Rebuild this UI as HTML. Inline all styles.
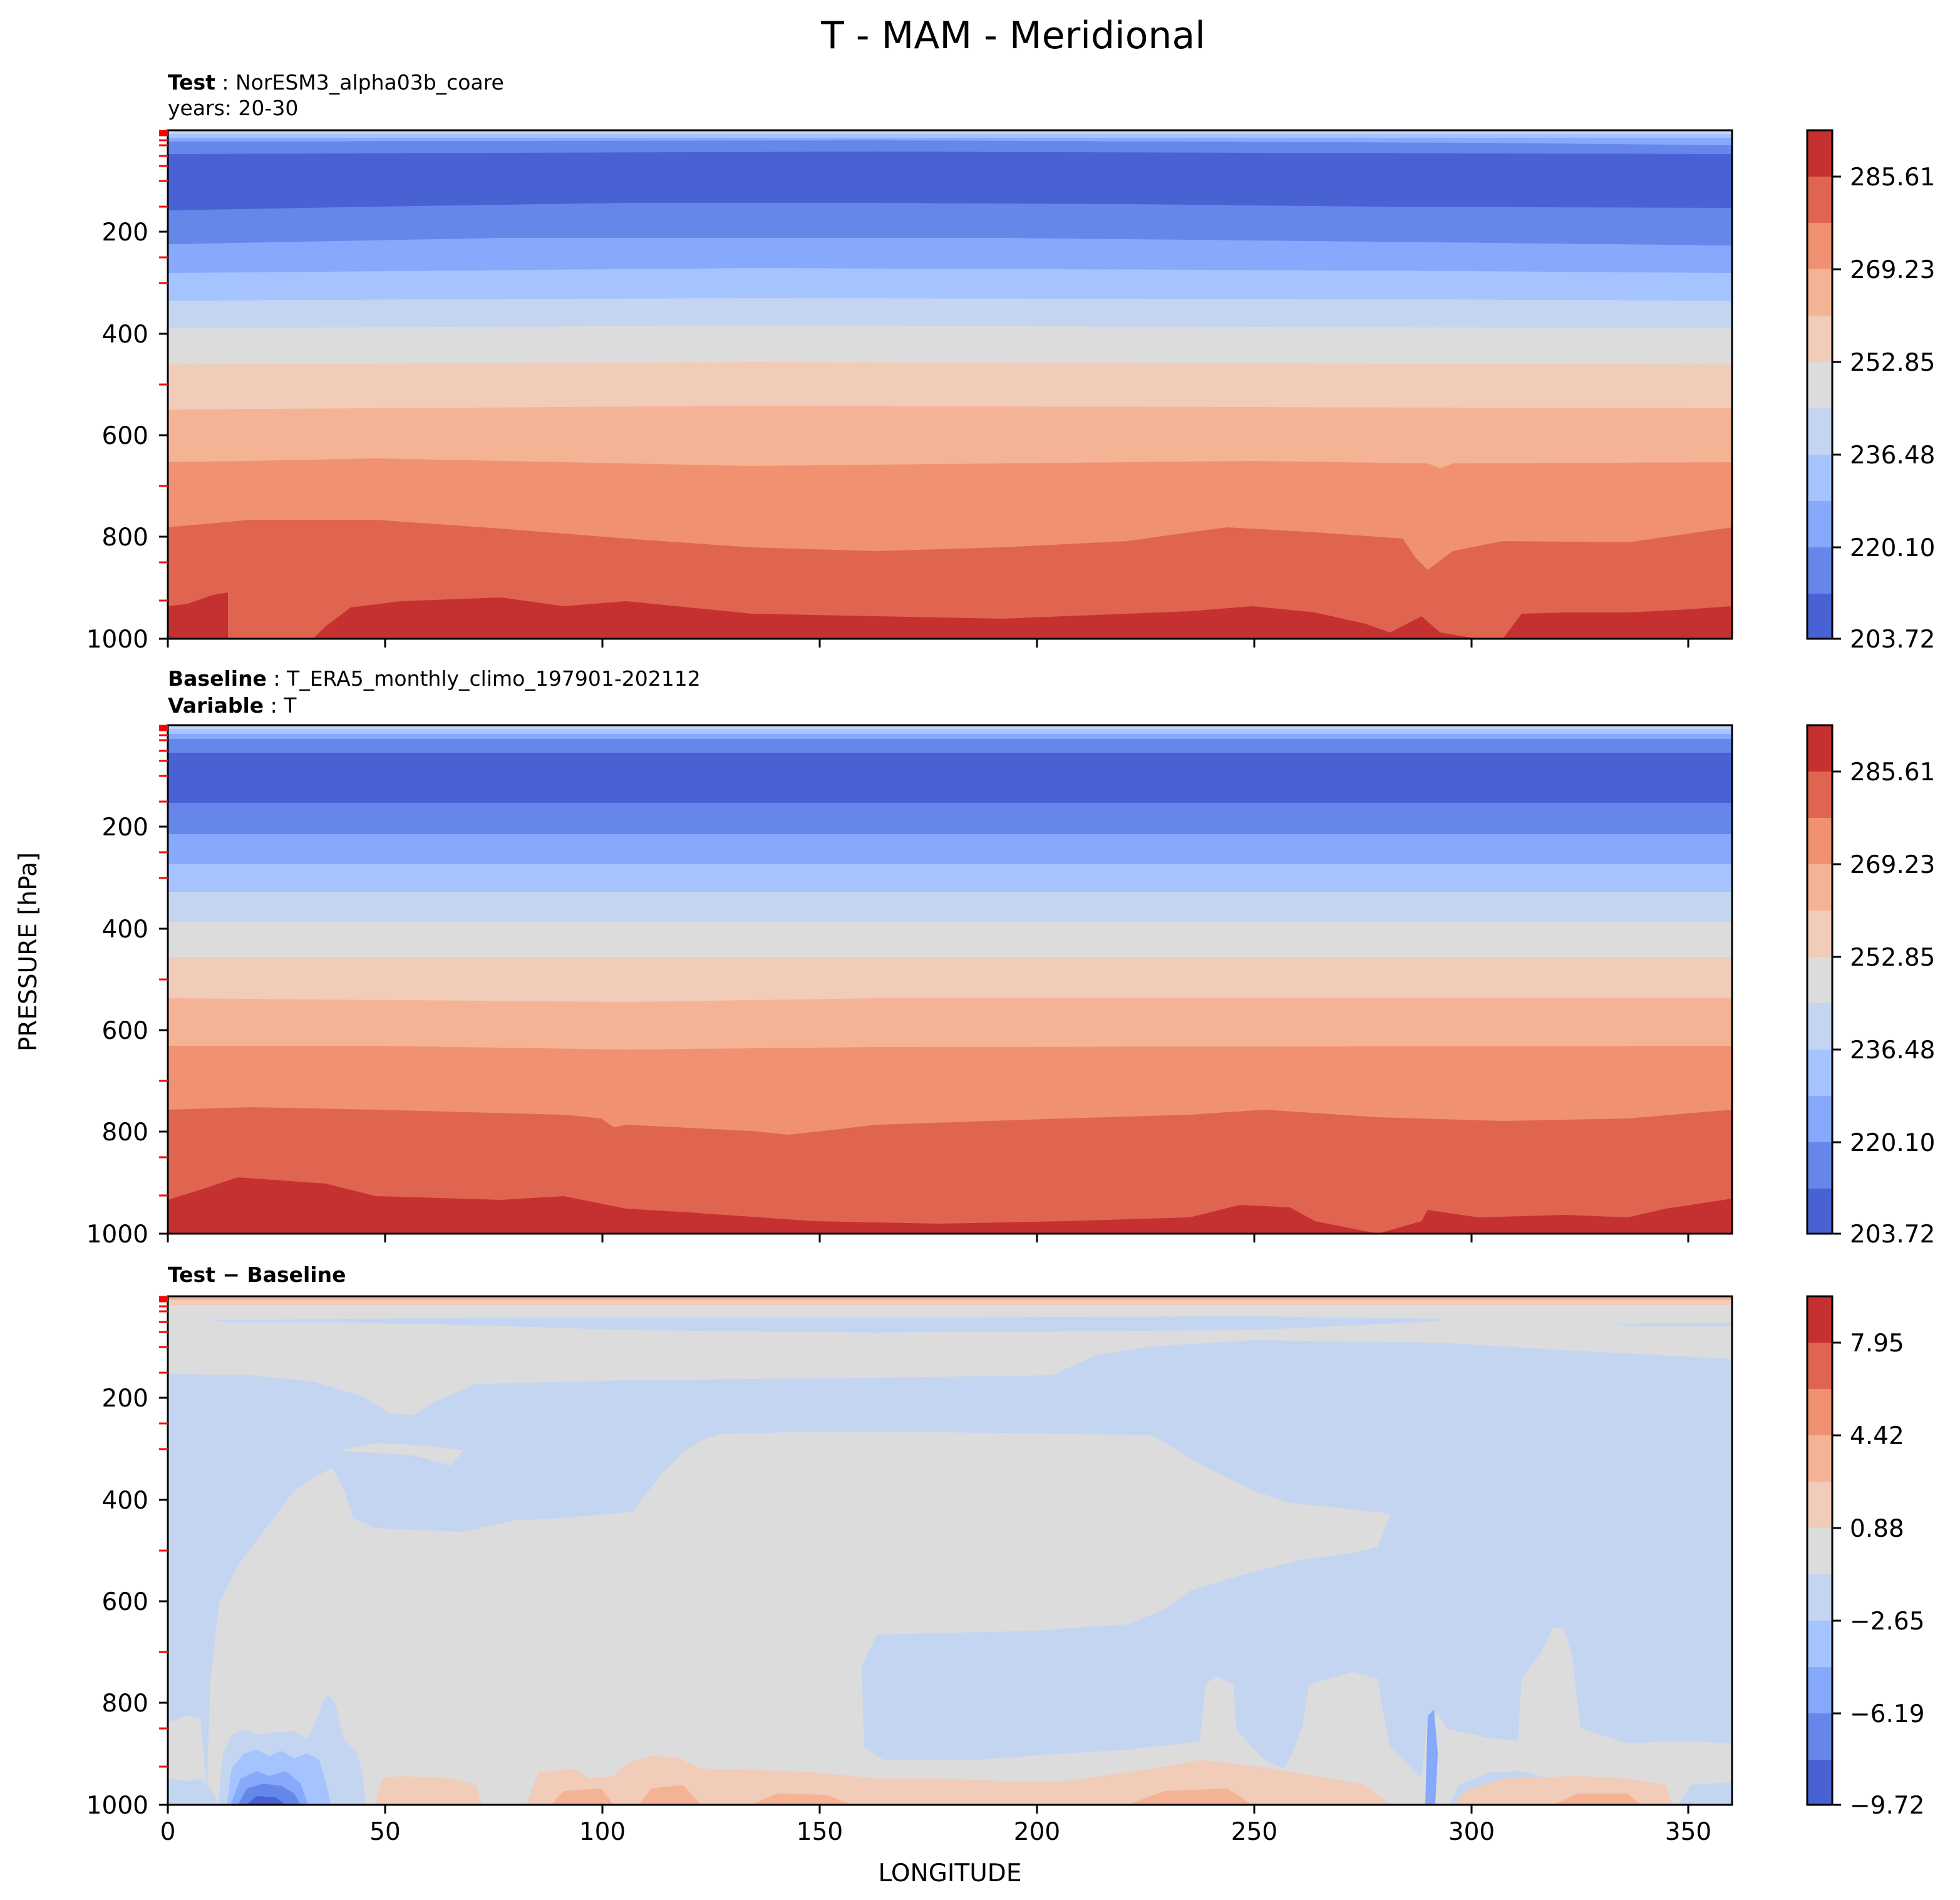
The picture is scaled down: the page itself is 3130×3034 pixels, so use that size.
<!DOCTYPE html>
<html><head><meta charset="utf-8"><style>html,body{margin:0;padding:0;background:#fff}svg{display:block}</style></head>
<body>
<svg xmlns="http://www.w3.org/2000/svg" width="3130" height="3034" viewBox="0 0 3130 3034" font-family="DejaVu Sans, Liberation Sans, sans-serif">
<rect width="3130" height="3034" fill="#fff"/>
<defs>
<clipPath id="c1"><rect x="134" y="104" width="1249" height="406"/></clipPath>
<clipPath id="c2"><rect x="134" y="579" width="1249" height="406"/></clipPath>
<clipPath id="c3"><rect x="134" y="1035" width="1249" height="406"/></clipPath>
</defs>
<g transform="scale(2)">
<!-- Panel 1 -->
<g clip-path="url(#c1)">
<rect x="134" y="104" width="1249" height="406" fill="#c4d5f2"/>
<rect x="134" y="107" width="1249" height="403" fill="#a5c3fe"/>
<rect x="134" y="110" width="1249" height="400" fill="#86a9fc"/>
<polygon fill="#6687ea" points="134,113 700,112 1180,114 1383,116 1383,510 134,510"/>
<polygon fill="#4962d3" points="134,123 400,122 700,121 1000,122 1383,123 1383,510 134,510"/>
<polygon fill="#6687ea" points="134,168 300,165 500,162 700,162 900,163 1100,165 1383,166 1383,510 134,510"/>
<polygon fill="#86a9fc" points="134,195 400,190 800,190 1100,193 1383,196 1383,510 134,510"/>
<polygon fill="#a5c3fe" points="134,218 600,214 1100,216 1383,218 1383,510 134,510"/>
<polygon fill="#c4d5f2" points="134,240 600,238 1100,239 1383,240 1383,510 134,510"/>
<polygon fill="#dcdcdc" points="134,262 600,260 1383,262 1383,510 134,510"/>
<polygon fill="#f1ccb8" points="134,291 600,289 1383,291 1383,510 134,510"/>
<polygon fill="#f5b396" points="134,327 600,324 1383,326 1383,510 134,510"/>
<polygon fill="#f09272" points="134,369 200,368 300,366 400,368 600,372 800,370 1000,368 1140,370 1150,374 1160,370 1383,369 1383,510 134,510"/>
<polygon fill="#e06550" points="134,421 200,415 300,415 400,422 500,430 600,437 700,440 800,437 900,432 950,425 980,421 1050,425 1120,430 1130,445 1140,455 1160,440 1200,432 1300,433 1383,421 1383,510 134,510"/>
<polygon fill="#c53030" points="134,484 150,482 170,475 182,473 182,510 250,510 260,500 280,485 320,480 400,477 450,484 500,480 600,490 700,492 800,494 850,492 950,488 1000,484 1050,489 1090,498 1110,505 1135,492 1150,505 1180,510 1200,510 1215,490 1250,489 1300,489 1340,487 1383,484 1383,510 134,510"/>
</g>
<!-- Panel 2 -->
<g clip-path="url(#c2)">
<rect x="134" y="579" width="1249" height="406" fill="#c4d5f2"/>
<rect x="134" y="582" width="1249" height="403" fill="#a5c3fe"/>
<rect x="134" y="586" width="1249" height="399" fill="#86a9fc"/>
<rect x="134" y="590" width="1249" height="395" fill="#6687ea"/>
<rect x="134" y="601" width="1249" height="384" fill="#4962d3"/>
<rect x="134" y="641" width="1249" height="344" fill="#6687ea"/>
<rect x="134" y="666" width="1249" height="319" fill="#86a9fc"/>
<rect x="134" y="690" width="1249" height="295" fill="#a5c3fe"/>
<rect x="134" y="712" width="1249" height="273" fill="#c4d5f2"/>
<rect x="134" y="736" width="1249" height="249" fill="#dcdcdc"/>
<rect x="134" y="764" width="1249" height="221" fill="#f1ccb8"/>
<polygon fill="#f5b396" points="134,797 500,800 700,797 1383,797 1383,985 134,985"/>
<polygon fill="#f09272" points="134,835 300,835 500,838 700,836 1383,835 1383,985 134,985"/>
<polygon fill="#e06550" points="134,886 200,884 300,886 450,890 480,893 490,900 500,898 600,903 630,906 700,898 850,893 950,890 1010,886 1100,892 1200,895 1300,893 1383,886 1383,985 134,985"/>
<polygon fill="#c53030" points="134,958 160,950 190,940 260,945 300,955 400,958 450,955 500,965 550,968 650,975 750,977 850,975 950,972 990,962 1030,964 1050,975 1100,985 1135,975 1140,966 1180,972 1250,970 1300,972 1330,965 1383,957 1383,985 134,985"/>
</g>
<!-- Panel 3 -->
<g clip-path="url(#c3)">
<rect x="134" y="1035" width="1249" height="406" fill="#dcdcdc"/>
<rect x="134" y="1035" width="1249" height="3" fill="#f5b396"/>
<rect x="134" y="1038" width="1249" height="4" fill="#f1ccb8"/>
<polygon fill="#c4d5f2" points="170,1054 400,1052 700,1052 1000,1051 1150,1053 1150,1055 1000,1062 700,1064 500,1062 380,1058 270,1056 180,1056"/>
<polygon fill="#c4d5f2" points="1290,1057 1383,1056 1383,1059 1300,1059"/>
<polygon fill="#c4d5f2" points="134,1097 200,1098 250,1103 290,1115 310,1128 330,1130 345,1120 380,1105 500,1102 700,1100 840,1098 875,1082 920,1075 1000,1070 1150,1072 1250,1078 1383,1085 1383,1441 134,1441"/>
<polygon fill="#dcdcdc" points="270,1158 300,1152 340,1154 370,1158 360,1170 330,1162 300,1160"/>
<polygon fill="#dcdcdc" points="165,1441 168,1340 175,1280 190,1250 205,1230 235,1190 250,1180 265,1172 275,1190 282,1212 300,1220 340,1222 370,1223 410,1214 450,1212 505,1207 518,1190 530,1175 545,1160 560,1150 575,1145 650,1143 800,1144 920,1146 960,1170 1000,1190 1030,1200 1080,1205 1105,1208 1110,1210 1100,1235 1080,1240 1040,1245 990,1258 950,1270 930,1285 900,1297 850,1300 830,1302 700,1305 688,1330 690,1395 705,1405 780,1405 850,1400 900,1397 945,1392 958,1390 963,1345 970,1338 985,1345 987,1380 995,1390 1010,1405 1025,1412 1032,1400 1040,1378 1045,1345 1080,1335 1100,1340 1105,1370 1110,1395 1135,1420 1140,1370 1148,1368 1155,1380 1190,1388 1212,1390 1215,1340 1230,1320 1240,1300 1248,1300 1255,1320 1262,1380 1300,1392 1340,1390 1383,1392 1383,1441"/>
<polygon fill="#dcdcdc" points="134,1375 150,1370 160,1372 166,1441 134,1441"/>
<polygon fill="#c4d5f2" points="134,1420 150,1422 160,1420 170,1430 174,1441 134,1441"/>
<polygon fill="#c4d5f2" points="174,1441 178,1400 185,1385 195,1381 205,1385 220,1383 235,1382 245,1388 250,1380 258,1358 262,1353 268,1360 275,1390 285,1398 290,1420 292,1441"/>
<polygon fill="#a5c3fe" points="181,1441 185,1412 195,1400 205,1397 215,1402 225,1398 235,1404 245,1400 255,1405 262,1430 264,1441"/>
<polygon fill="#86a9fc" points="184,1441 192,1420 205,1414 215,1418 228,1414 240,1424 246,1441"/>
<polygon fill="#6687ea" points="190,1441 197,1428 210,1424 225,1426 235,1432 240,1441"/>
<polygon fill="#4962d3" points="197,1441 205,1434 220,1435 228,1441"/>
<polygon fill="#c4d5f2" points="1157,1441 1165,1425 1190,1415 1215,1414 1230,1418 1240,1441"/>
<polygon fill="#c4d5f2" points="1340,1441 1350,1425 1383,1423 1383,1441"/>
<polygon fill="#f1ccb8" points="300,1441 305,1420 320,1418 360,1420 380,1425 385,1441"/>
<polygon fill="#f1ccb8" points="420,1441 430,1415 460,1412 470,1420 490,1418 500,1408 520,1402 540,1403 560,1412 600,1413 650,1415 700,1420 750,1420 800,1422 850,1422 880,1418 920,1412 960,1405 1000,1410 1050,1418 1090,1425 1110,1441"/>
<polygon fill="#f1ccb8" points="1160,1441 1170,1430 1200,1420 1260,1418 1300,1420 1330,1425 1335,1441"/>
<polygon fill="#f5b396" points="440,1441 450,1430 480,1428 490,1441"/>
<polygon fill="#f5b396" points="510,1441 520,1428 545,1425 560,1441"/>
<polygon fill="#f5b396" points="600,1441 620,1432 660,1433 680,1441"/>
<polygon fill="#f5b396" points="900,1441 930,1430 980,1428 1000,1441"/>
<polygon fill="#f5b396" points="1240,1441 1260,1432 1300,1432 1310,1441"/>
<polygon fill="#86a9fc" points="1138,1441 1140,1370 1145,1365 1148,1400 1146,1441"/>
</g>
<!-- colorbars -->
<g id="cb">
<rect x="1443" y="104" width="20" height="37" fill="#c53030"/>
<rect x="1443" y="141" width="20" height="37" fill="#e06550"/>
<rect x="1443" y="178" width="20" height="37" fill="#f09272"/>
<rect x="1443" y="215" width="20" height="37" fill="#f5b396"/>
<rect x="1443" y="252" width="20" height="37" fill="#f1ccb8"/>
<rect x="1443" y="289" width="20" height="37" fill="#dcdcdc"/>
<rect x="1443" y="326" width="20" height="37" fill="#c4d5f2"/>
<rect x="1443" y="363" width="20" height="37" fill="#a5c3fe"/>
<rect x="1443" y="400" width="20" height="37" fill="#86a9fc"/>
<rect x="1443" y="437" width="20" height="37" fill="#6687ea"/>
<rect x="1443" y="474" width="20" height="36" fill="#4962d3"/>
<rect x="1443" y="104" width="20" height="406" fill="none" stroke="#000" stroke-width="1.5"/>
</g>
<use href="#cb" y="475"/>
<use href="#cb" y="931"/>
</g>
<g fill="none" stroke="#000" stroke-width="3">
<rect x="268" y="208" width="2498" height="812"/>
<rect x="268" y="1158" width="2498" height="812"/>
<rect x="268" y="2070" width="2498" height="812"/>
</g>
<g stroke="#000" stroke-width="3">
<path d="M254 370H268M254 533H268M254 695H268M254 857H268M254 1020H268"/>
<path d="M254 1320H268M254 1483H268M254 1645H268M254 1807H268M254 1970H268"/>
<path d="M254 2232H268M254 2395H268M254 2557H268M254 2719H268M254 2882H268"/>
<path d="M268 1020v14M615 1020v14M962 1020v14M1309 1020v14M1656 1020v14M2003 1020v14M2350 1020v14M2696 1020v14"/>
<path d="M268 1970v14M615 1970v14M962 1970v14M1309 1970v14M1656 1970v14M2003 1970v14M2350 1970v14M2696 1970v14"/>
<path d="M268 2882v14M615 2882v14M962 2882v14M1309 2882v14M1656 2882v14M2003 2882v14M2350 2882v14M2696 2882v14"/>
<path d="M2926 282h14M2926 430h14M2926 578h14M2926 726h14M2926 874h14M2926 1020h14"/>
<path d="M2926 1232h14M2926 1380h14M2926 1528h14M2926 1676h14M2926 1824h14M2926 1970h14"/>
<path d="M2926 2144h14M2926 2292h14M2926 2440h14M2926 2588h14M2926 2736h14M2926 2882h14"/>
</g>
<g id="red" stroke="#f00" stroke-width="3">
<path d="M254 209H268M254 210H268M254 211H268M254 212H268M254 214H268M254 216H268M254 224H268M254 232H268M254 249H268M254 265H268M254 289H268M254 330H268M254 411H268M254 452H268M254 614H268M254 776H268M254 898H268M254 959H268"/>
</g>
<use href="#red" y="950"/>
<use href="#red" y="1862"/>
<text x="1618" y="77" font-size="60" text-anchor="middle">T - MAM - Meridional</text>
<g font-size="33">
<text x="268" y="143"><tspan font-weight="bold">Test</tspan> : NorESM3_alpha03b_coare</text>
<text x="268" y="184">years: 20-30</text>
<text x="268" y="1095"><tspan font-weight="bold">Baseline</tspan> : T_ERA5_monthly_climo_197901-202112</text>
<text x="268" y="1138"><tspan font-weight="bold">Variable</tspan> : T</text>
<text x="268" y="2047" font-weight="bold">Test − Baseline</text>
</g>
<g font-size="39" text-anchor="end">
<text x="237" y="384">200</text><text x="237" y="547">400</text><text x="237" y="709">600</text><text x="237" y="871">800</text><text x="237" y="1034">1000</text>
<text x="237" y="1334">200</text><text x="237" y="1497">400</text><text x="237" y="1659">600</text><text x="237" y="1821">800</text><text x="237" y="1984">1000</text>
<text x="237" y="2246">200</text><text x="237" y="2409">400</text><text x="237" y="2571">600</text><text x="237" y="2733">800</text><text x="237" y="2896">1000</text>
</g>
<g font-size="39" text-anchor="middle">
<text x="268" y="2938">0</text><text x="615" y="2938">50</text><text x="962" y="2938">100</text><text x="1309" y="2938">150</text><text x="1656" y="2938">200</text><text x="2003" y="2938">250</text><text x="2350" y="2938">300</text><text x="2696" y="2938">350</text>
<text x="1517" y="3004">LONGITUDE</text>
<text transform="translate(58,1520) rotate(-90)">PRESSURE [hPa]</text>
</g>
<g font-size="39">
<text x="2954" y="296">285.61</text><text x="2954" y="444">269.23</text><text x="2954" y="592">252.85</text><text x="2954" y="740">236.48</text><text x="2954" y="888">220.10</text><text x="2954" y="1034">203.72</text>
<text x="2954" y="1246">285.61</text><text x="2954" y="1394">269.23</text><text x="2954" y="1542">252.85</text><text x="2954" y="1690">236.48</text><text x="2954" y="1838">220.10</text><text x="2954" y="1984">203.72</text>
<text x="2954" y="2158">7.95</text><text x="2954" y="2306">4.42</text><text x="2954" y="2454">0.88</text><text x="2954" y="2602">−2.65</text><text x="2954" y="2750">−6.19</text><text x="2954" y="2896">−9.72</text>
</g>
</svg>
</body></html>
